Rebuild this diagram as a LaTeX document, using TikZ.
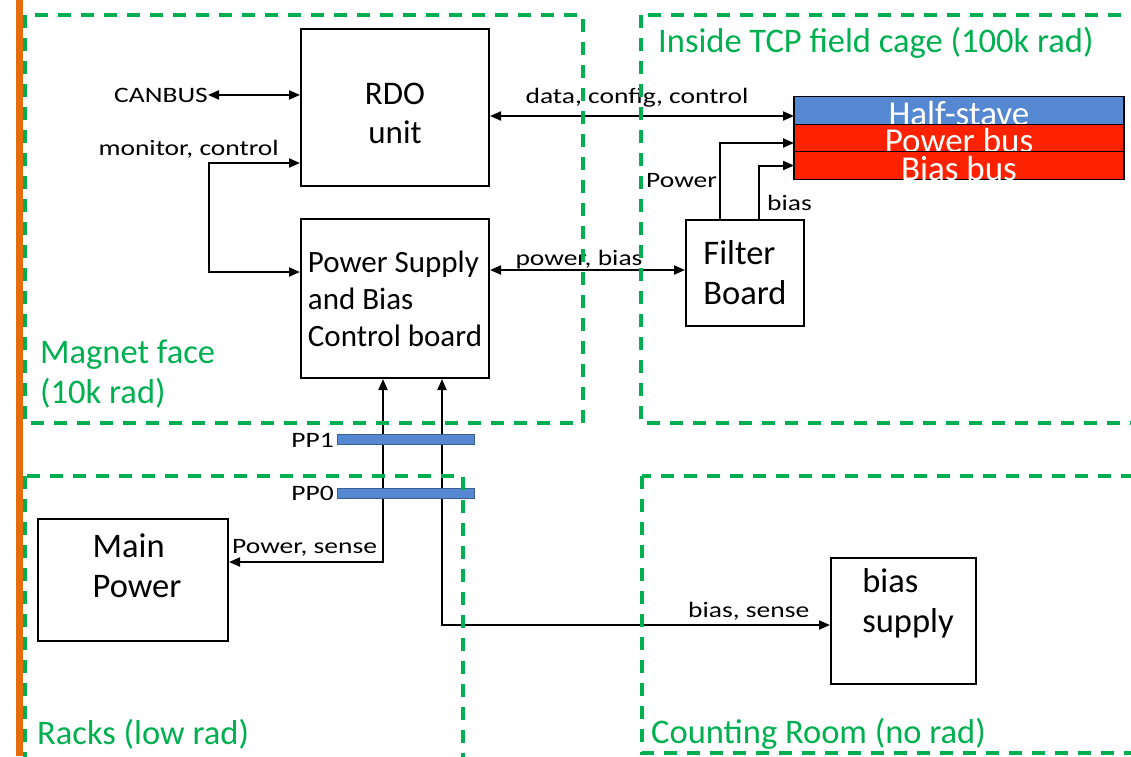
\documentclass[tikz,border=0pt]{standalone}
\usepackage{fontspec}
\setmainfont{Carlito}
\newfontfamily\lblfont{Carlito}[FakeStretch=1.25]
\usetikzlibrary{positioning,arrows.meta}
\definecolor{zonegreen}{HTML}{00B050}
\definecolor{wallorange}{HTML}{E46C0A}
\definecolor{staveblue}{HTML}{5588D0}
\definecolor{busred}{HTML}{FF2200}

\begin{document}
\begin{tikzpicture}[
  x=1pt,y=-1pt,
  box/.style={draw,line width=2pt,align=left,inner sep=0pt,font=\fontsize{34.5}{40}\selectfont},
  zone/.style={draw=zonegreen,line width=3.3pt,dash pattern=on 13pt off 10pt},
  zonetext/.style={text=zonegreen,anchor=base west,align=left,inner sep=0pt,font=\fontsize{34.5}{40}\selectfont},
  lbl/.style={inner sep=0pt,font=\lblfont\fontsize{22}{26}\selectfont},
  bar/.style={draw,line width=1.2pt,minimum width=330pt,minimum height=27.5pt,inner sep=0pt,outer sep=0pt},
  bartext/.style={text=white,anchor=base,inner sep=0pt,font=\fontsize{35}{36}\selectfont},
  ppbar/.style={draw=staveblue!70!black,fill=staveblue,line width=1pt,minimum width=137pt,minimum height=10pt,inner sep=0pt},
  wire/.style={line width=2pt,-{Triangle[length=11pt,width=9pt]}},
  wiretwo/.style={line width=2pt,{Triangle[length=11pt,width=9pt]}-{Triangle[length=11pt,width=9pt]}}
]
  \useasboundingbox (0,0) rectangle (1131,756);
  \fill[wallorange] (16,0) rectangle (23,756);

  % boxes
  \node[box,minimum width=188pt,minimum height=157pt,anchor=north west] (rdo) at (300,28) {};
  \node[box,draw=none,align=center,yshift=-6pt,font=\fontsize{33}{39}\selectfont] (rdotxt) at (rdo.center) {RDO\\unit};
  \node[box,minimum width=188pt,minimum height=159pt,anchor=north west,
    font=\fontsize{31}{37}\selectfont] (psbc) at (300,218) {Power Supply\\and Bias\\Control board};
  \node[box,minimum width=118pt,minimum height=106pt,anchor=north west] (filter) at (685,219) {Filter\\Board};
  \node[box,minimum width=190pt,minimum height=122pt,anchor=north west] (mainpower) at (37,518) {};
  \node[box,draw=none,yshift=14pt,xshift=4pt] (mainpowertxt) at (mainpower.center) {Main\\Power};
  \node[box,minimum width=145pt,minimum height=126pt,anchor=north west] (biassupply) at (830,557) {};
  \node[box,draw=none,yshift=18pt,xshift=4.5pt] (biassupplytxt) at (biassupply.center) {bias\\supply};

  % stave layers, each text partly hidden by the next layer
  \node[bar,fill=staveblue] (halfstave) at (959,110.5) {};
  \node[bartext] (halfstavetxt) at (959,125.5) {Half-stave};
  \node[bar,fill=busred,below=0pt of halfstave] (powerbus) {};
  \node[bartext] (powerbustxt) at (959,152.5) {Power bus};
  \node[bar,fill=busred,below=0pt of powerbus] (biasbus) {};
  \node[bartext] (biasbustxt) at (959,180) {Bias bus};

  % labels
  \node[lbl,anchor=base east] (canbus) at (208,102) {CANBUS};
  \node[lbl,anchor=base east] (monitor) at (279,155) {monitor, control};
  \node[lbl,anchor=base] (datalbl) at (637,103) {data, config, control};
  \node[lbl,anchor=base] (powerbiaslbl) at (579,265) {power, bias};
  \node[lbl,anchor=base west] (powerlbl) at (646,187) {Power};
  \node[lbl,anchor=base west] (biaslbl) at (767,210) {bias};
  \node[lbl,anchor=base west] (powersenselbl) at (232,553) {Power, sense};
  \node[lbl,anchor=base west] (biassenselbl) at (688,617) {bias, sense};

  % connections
  \draw[wiretwo] (canbus.east) -- (canbus.east -| rdo.west);
  \draw[wiretwo] ([yshift=-55.5pt]rdo.west) -- ++(-91,0) |- ([yshift=26.5pt]psbc.west);
  \draw[wiretwo] ([yshift=-8.5pt]rdo.east) coordinate (dataend) -- (dataend -| halfstave.west);
  \draw[wiretwo] ([yshift=28.5pt]psbc.east) coordinate (pbend) -- (pbend -| filter.west);
  \draw[wire] ([xshift=-25.5pt]filter.north) |- ([yshift=-5pt]powerbus.west);
  \draw[wire] ([xshift=13.5pt]filter.north) |- (biasbus.west);
  \draw[wiretwo] ([yshift=18pt]mainpower.east) -| ([xshift=-12pt]psbc.south);
  \draw[wiretwo] ([yshift=-4pt]biassupply.west) -| ([xshift=47pt]psbc.south);

  % patch panels
  \node[ppbar] (pp1) at (405.5,439) {};
  \node[lbl,anchor=base east] (pp1lbl) at (334,447) {PP1};
  \node[ppbar] (pp0) at (405.5,493) {};
  \node[lbl,anchor=base east] (pp0lbl) at (334,500) {PP0};

  % radiation zones
  \draw[zone] (25,15) rectangle (583,423);
  \draw[zone] (641,15) rectangle (1140,423);
  \draw[zone] (25,476) rectangle (463,770);
  \draw[zone] (642,476) rectangle (1140,753);
  \node[zonetext] (magnettitle) at (40,403) {Magnet face\\(10k rad)};
  \node[zonetext] (tcptitle) at (658,52) {Inside TCP field cage (100k rad)};
  \node[zonetext] (rackstitle) at (37,744) {Racks (low rad)};
  \node[zonetext] (countingtitle) at (651,743) {Counting Room (no rad)};
\end{tikzpicture}
\end{document}
